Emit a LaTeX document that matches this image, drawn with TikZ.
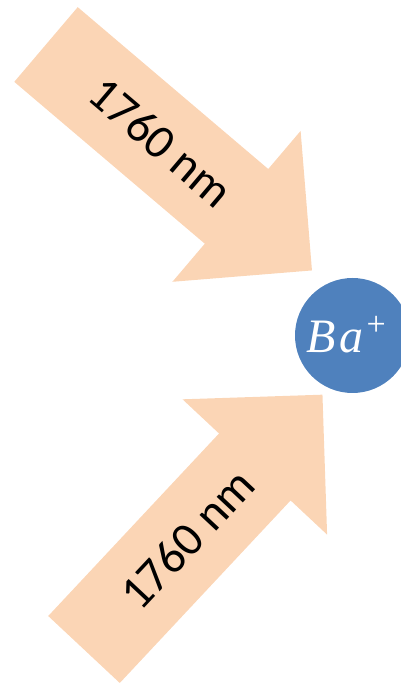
\documentclass[tikz,border=0pt]{standalone}
\usepackage{fontspec}
\newfontfamily\beamfont{Carlito}
\newfontfamily\ionfont{Liberation Serif}
\usetikzlibrary{positioning}
\definecolor{beampeach}{RGB}{251,213,181}
\definecolor{ionblue}{RGB}{79,129,189}

\begin{document}
\begin{tikzpicture}[
  x=1pt, y=1pt,
  beam/.style={fill=beampeach, draw=none},
  beamlabel/.style={font=\beamfont\fontsize{48}{58}\selectfont, text=black,
                    inner sep=0pt, transform shape},
  ion/.style={circle, fill=ionblue, draw=none, minimum size=115pt, inner sep=0pt},
  ionlabel/.style={anchor=base, inner sep=0pt, text=white,
                   font=\ionfont\itshape\fontsize{48}{56}\selectfont}
]
\useasboundingbox (0,0) rectangle (401,683);

% upper beam, pointing down to the ion
\begin{scope}[shift={(46,638.5)}, rotate=-40.35]
  \fill[beam] (0,49) -- (250,49) -- (250,99) -- (349,0) -- (250,-99) -- (250,-49) -- (0,-49) -- cycle;
  \node[beamlabel] (upperlabel) at (151,0) {1760 nm};
\end{scope}

% lower beam, pointing up to the ion
\begin{scope}[shift={(84,33.5)}, rotate=46.9]
  \fill[beam] (0,49) -- (250,49) -- (250,99) -- (349,0) -- (250,-99) -- (250,-49) -- (0,-49) -- cycle;
  \node[beamlabel] (lowerlabel) at (151,0) {1760 nm};
\end{scope}

\node[ion] (ion) at (352.5,347.5) {};
\node[ionlabel] (ionlabel) at ([xshift=-6.5pt, yshift=-17.5pt]ion.center)
  {B\kern4pt a\kern3pt\raisebox{17pt}{\upshape\fontsize{34}{34}\selectfont +}};

\end{tikzpicture}
\end{document}
